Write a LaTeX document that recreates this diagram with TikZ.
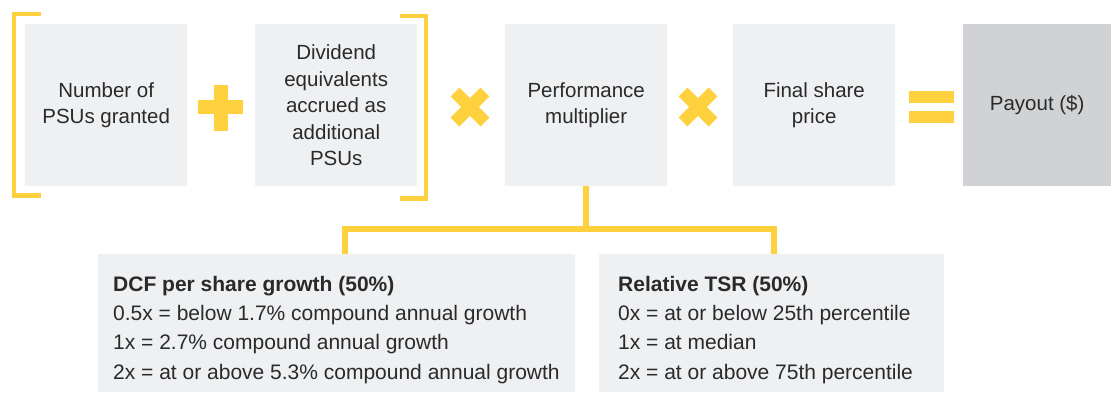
\documentclass[tikz,border=0pt]{standalone}
\usepackage{fontspec}
\setmainfont{Liberation Sans}
\definecolor{boxgray}{HTML}{EFF0F2}
\definecolor{paygray}{HTML}{D1D2D4}
\definecolor{ylw}{HTML}{FFD13F}
\definecolor{txt}{HTML}{2A2A2A}
\tikzset{
  topbox/.style={fill=boxgray, draw=none, minimum width=162pt, minimum height=162pt, inner sep=0pt, anchor=north west, align=center, text=txt, font=\fontsize{20.5}{26.5}\selectfont},
  paybox/.style={topbox, fill=paygray, minimum width=148pt},
  botbox/.style={fill=boxgray, draw=none, inner sep=0pt, anchor=north west},
  bottxt/.style={anchor=base west, inner sep=0pt, text=txt, font=\fontsize{21}{24}\selectfont},
  bothead/.style={bottxt, font=\fontsize{21}{24}\selectfont\bfseries},
  bracketline/.style={draw=ylw, line width=4.5pt, line join=miter},
  connector/.style={draw=ylw, line width=6pt, line join=miter},
  crossbar/.style={draw=ylw, line width=12.5pt},
}
\begin{document}
\begin{tikzpicture}[x=1pt, y=-1pt]
\useasboundingbox (0,0) rectangle (1111,392);
% top boxes
\node[topbox] (num) at (25,24) {Number of\\PSUs granted};
\node[topbox] (div) at (255,24) {Dividend\\equivalents\\accrued as\\additional\\PSUs};
\node[topbox] (perf) at (505,24) {Performance\\multiplier};
\node[topbox] (price) at (733,24) {Final share\\price};
\node[paybox] (pay) at (963,24) {Payout (\$)};
% brackets
\draw[bracketline] (41,14) -- (14,14) -- (14,195.5) -- (41,195.5);
\draw[bracketline] (400,16) -- (426,16) -- (426,198.5) -- (400,198.5);
% plus
\fill[ylw] (198,100) rectangle (243,114);
\fill[ylw] (214,85) rectangle (228,131);
% times
\draw[crossbar] (455,92) -- (485,122);
\draw[crossbar] (455,122) -- (485,92);
\draw[crossbar] (683,92) -- (713,122);
\draw[crossbar] (683,122) -- (713,92);
% equals
\fill[ylw] (909,91) rectangle (954,103);
\fill[ylw] (909,111) rectangle (954,123);
% bottom boxes
\node[botbox, minimum width=477pt, minimum height=138pt] (dcf) at (98,254) {};
\node[botbox, minimum width=345pt, minimum height=138pt] (tsr) at (599,254) {};
\node[bothead] (dcfh) at (113,291) {DCF per share growth (50\%)};
\node[bottxt] (dcfa) at (113,320.5) {0.5x = below 1.7\% compound annual growth};
\node[bottxt] (dcfb) at (113,349.8) {1x = 2.7\% compound annual growth};
\node[bottxt] (dcfc) at (113,379) {2x = at or above 5.3\% compound annual growth};
\node[bothead] (tsrh) at (618,291) {Relative TSR (50\%)};
\node[bottxt] (tsra) at (618,320.5) {0x = at or below 25th percentile};
\node[bottxt] (tsrb) at (618,349.8) {1x = at median};
\node[bottxt] (tsrc) at (618,379) {2x = at or above 75th percentile};
% connectors
\coordinate (jl) at (344.5,228.5);
\coordinate (jr) at (774,228.5);
\draw[connector] (perf.south) -- (perf.south |- jl);
\draw[connector] (dcf.north -| jl) -- (jl) -- (jr) -- (tsr.north -| jr);
\end{tikzpicture}
\end{document}
